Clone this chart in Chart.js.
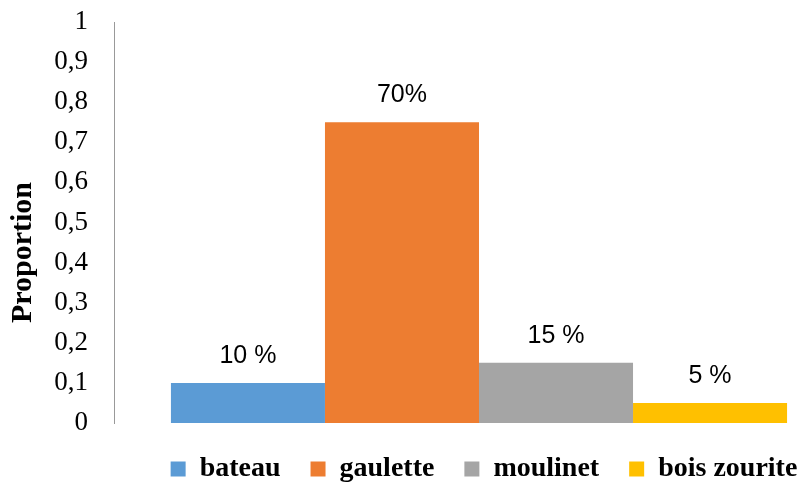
<!DOCTYPE html>
<html>
<head>
<meta charset="utf-8">
<script src="https://cdn.jsdelivr.net/npm/chart.js@4/dist/chart.umd.min.js"></script>
<style>
  html, body { margin: 0; padding: 0; background: #fff; overflow: hidden; }
  #wrap { width: 804px; height: 484px; overflow: hidden; }
</style>
</head>
<body>
<!-- source picture is cropped on the right, so the canvas runs a bit past the window -->
<div id="wrap"><canvas id="chart" width="844" height="484"></canvas></div>
<script>
// data
const categories = ["bateau", "gaulette", "moulinet", "bois zourite"];
const proportions = [0.10, 0.75, 0.15, 0.05];
const valueLabels = ["10 %", "70%", "15 %", "5 %"];
const colors = ["#5B9BD5", "#ED7D31", "#A5A5A5", "#FFC000"];
const yTicks = [0, 0.1, 0.2, 0.3, 0.4, 0.5, 0.6, 0.7, 0.8, 0.9, 1];

const SERIF = "'Liberation Serif', 'Times New Roman', serif";

// text above each bar
const barLabels = {
    id: "barLabels",
    afterDatasetsDraw(chart) {
        const c = chart.ctx;
        c.save();
        c.font = "25px 'Liberation Sans', Arial, sans-serif";
        c.fillStyle = "#000";
        c.textAlign = "center";
        c.textBaseline = "alphabetic";
        chart.data.datasets.forEach((ds, i) => {
            const bar = chart.getDatasetMeta(i).data[0];
            c.fillText(valueLabels[i], bar.x, bar.y - 20);
        });
        c.restore();
    }
};

// keep the legend band short and push it right, like the source
const legendTweak = {
    id: "legendTweak",
    beforeLayout(chart) {
        const lg = chart.legend;
        if (lg && !lg._patched) {
            const fit = lg.fit;
            lg.fit = function () { fit.call(this); this.height = 57; };
            lg._patched = true;
        }
    },
    afterLayout(chart) {
        const lg = chart.legend;
        lg.left += 62;
        lg.right += 62;
        lg.top += 2;
        lg.bottom += 2;
    }
};

new Chart(document.getElementById("chart"), {
    type: "bar",
    data: {
        labels: [""],
        datasets: categories.map((name, i) => ({
            label: name,
            data: [proportions[i]],
            backgroundColor: colors[i],
            borderWidth: 0
        }))
    },
    options: {
        responsive: false,
        animation: false,
        barPercentage: 1,
        categoryPercentage: 0.844,
        layout: { padding: { top: 22, right: 0, bottom: 4, left: 0 } },
        plugins: {
            tooltip: { enabled: false },
            legend: {
                position: "bottom",
                labels: {
                    boxWidth: 15,
                    boxHeight: 15,
                    padding: 30,
                    color: "#000",
                    font: { family: SERIF, size: 28, weight: "bold" }
                }
            }
        },
        scales: {
            x: { display: false },
            y: {
                min: 0,
                max: 1,
                afterBuildTicks: (s) => { s.ticks = yTicks.map(v => ({ value: v })); },
                afterFit: (s) => { s.width = 114; },
                grid: { display: false, drawTicks: true, tickLength: 26 },
                border: { display: true, color: "#999", width: 1 },
                ticks: {
                    padding: 0,
                    color: "#000",
                    font: { family: SERIF, size: 27 },
                    callback: (v) => (v === 0 || v === 1) ? String(v) : v.toFixed(1).replace(".", ",")
                },
                title: {
                    display: true,
                    text: "Proportion" + "\u00a0".repeat(8),
                    color: "#000",
                    padding: { top: 5, bottom: 0 },
                    font: { family: SERIF, size: 30, weight: "bold" }
                }
            }
        }
    },
    plugins: [barLabels, legendTweak]
});
</script>
</body>
</html>
